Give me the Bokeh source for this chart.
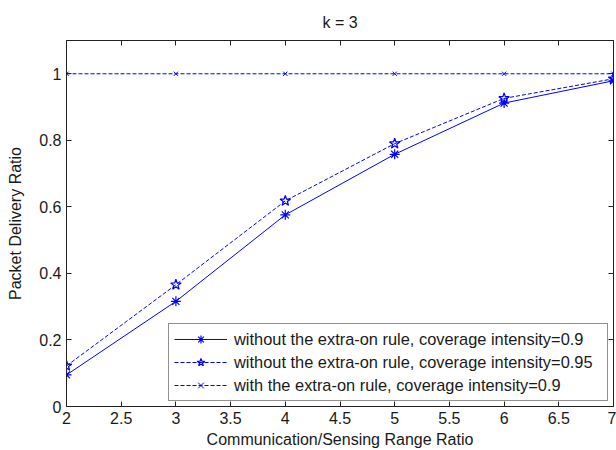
from bokeh.plotting import figure
from bokeh.models import LinearAxis, FixedTicker, Range1d, Legend, LegendItem
from bokeh.embed import file_html
from bokeh.resources import INLINE

# ---- data ----
ratio = [2, 3, 4, 5, 6, 7]
pdr_no_extra_09 = [0.095, 0.316, 0.576, 0.758, 0.912, 0.979]
pdr_no_extra_095 = [0.122, 0.366, 0.618, 0.790, 0.926, 0.985]
pdr_extra_09 = [1.0, 1.0, 1.0, 1.0, 1.0, 1.0]

labels = [
    "without the extra-on rule, coverage intensity=0.9",
    "without the extra-on rule, coverage intensity=0.95",
    "with the extra-on rule, coverage intensity=0.9",
]
x_ticks = [2, 2.5, 3, 3.5, 4, 4.5, 5, 5.5, 6, 6.5, 7]
y_ticks = [0, 0.2, 0.4, 0.6, 0.8, 1]

FONT = "Liberation Sans"
BLUE = "#0000ff"
TXT = "#1a1a1a"
FS = "16px"

p = figure(width=616, height=450, output_backend="svg", toolbar_location=None,
           x_range=Range1d(2, 7), y_range=Range1d(0, 1.1),
           min_border_left=66, min_border_right=3, min_border_top=40, min_border_bottom=43)
p.grid.visible = False
p.outline_line_color = "#222222"
p.background_fill_color = "white"
p.border_fill_color = "white"

p.title.text = "k = 3"
p.title.align = "center"
p.title.text_font = FONT
p.title.text_font_size = FS
p.title.text_font_style = "normal"
p.title.text_color = TXT
p.title.standoff = 20

r1l = p.line(ratio, pdr_no_extra_09, line_color=BLUE, line_width=1)
r1m = p.scatter(ratio, pdr_no_extra_09, marker="asterisk", size=10, line_color=BLUE, line_width=1.2)
r2l = p.line(ratio, pdr_no_extra_095, line_color=BLUE, line_width=1, line_dash="4 2")
r2m = p.scatter(ratio, pdr_no_extra_095, marker="star", size=11, line_color=BLUE, fill_color=None, line_width=1.2)
r3l = p.line(ratio, pdr_extra_09, line_color=BLUE, line_width=1, line_dash="4 2")
r3m = p.scatter(ratio, pdr_extra_09, marker="x", size=6, line_color=BLUE, line_width=1)

def style_axis(ax, show_labels=True):
    ax.major_tick_in = 5
    ax.major_tick_out = 0
    ax.minor_tick_line_color = None
    ax.axis_line_color = "#222222"
    ax.major_tick_line_color = "#222222"
    ax.major_label_text_font = FONT
    ax.major_label_text_font_size = FS if show_labels else "0px"
    ax.major_label_text_color = TXT
    ax.major_label_standoff = 5 if show_labels else 0
    ax.axis_label_text_font = FONT
    ax.axis_label_text_font_size = FS
    ax.axis_label_text_font_style = "normal"
    ax.axis_label_text_color = TXT

p.xaxis.ticker = FixedTicker(ticks=x_ticks)
p.yaxis.ticker = FixedTicker(ticks=y_ticks)
for ax in p.xaxis + p.yaxis:
    style_axis(ax)
p.xaxis.major_label_overrides = {t: ("%g" % t) for t in x_ticks}
p.yaxis.major_label_overrides = {t: ("%g" % t) for t in y_ticks}
p.xaxis.axis_label = "Communication/Sensing Range Ratio"
p.yaxis.axis_label = "Packet Delivery Ratio"
p.xaxis.axis_label_standoff = 4
p.yaxis.axis_label_standoff = 12

top = LinearAxis(ticker=FixedTicker(ticks=x_ticks))
style_axis(top, False)
top.major_label_overrides = {t: "" for t in x_ticks}
p.add_layout(top, "above")
right = LinearAxis(ticker=FixedTicker(ticks=y_ticks))
style_axis(right, False)
right.major_label_overrides = {t: "" for t in y_ticks}
p.add_layout(right, "right")

legend = Legend(items=[
    LegendItem(label=labels[0], renderers=[r1l, r1m]),
    LegendItem(label=labels[1], renderers=[r2l, r2m]),
    LegendItem(label=labels[2], renderers=[r3l, r3m]),
], location="bottom_right")
legend.margin = 5
legend.padding = 5
legend.spacing = 3
legend.glyph_width = 53
legend.glyph_height = 20
legend.label_height = 20
legend.label_width = 368
legend.label_standoff = 7
legend.label_text_font = FONT
legend.label_text_font_size = "16.4px"
legend.label_text_color = TXT
legend.border_line_color = "#222222"
legend.border_line_width = 1
legend.background_fill_color = "white"
legend.background_fill_alpha = 1
p.add_layout(legend, "center")

open("out.html", "w").write(file_html(p, INLINE))
